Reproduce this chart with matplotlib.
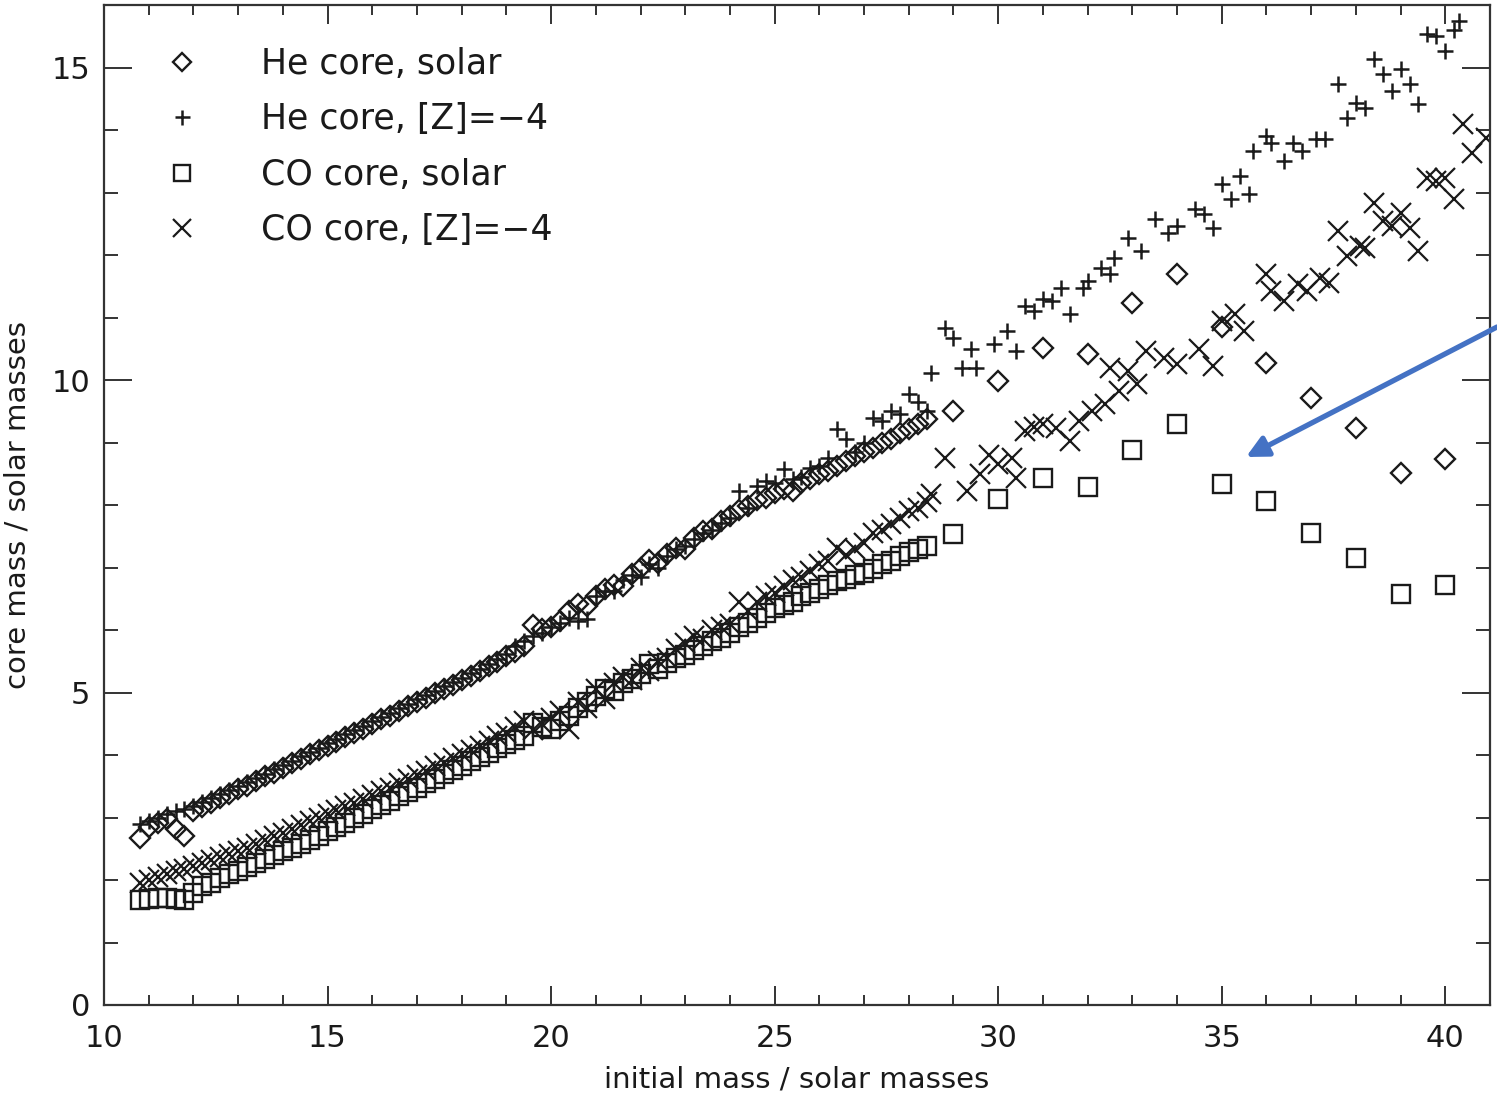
import matplotlib
matplotlib.use("Agg")
import matplotlib.pyplot as plt
from matplotlib.ticker import MultipleLocator

# ---------------- data ----------------
mass_dense = [10.8,
              11.0, 11.2, 11.4, 11.6, 11.8, 12.0, 12.2, 12.4, 12.6, 12.8,
              13.0, 13.2, 13.4, 13.6, 13.8, 14.0, 14.2, 14.4, 14.6, 14.8,
              15.0, 15.2, 15.4, 15.6, 15.8, 16.0, 16.2, 16.4, 16.6, 16.8,
              17.0, 17.2, 17.4, 17.6, 17.8, 18.0, 18.2, 18.4, 18.6, 18.8,
              19.0, 19.2, 19.4, 19.6, 19.8, 20.0, 20.2, 20.4, 20.6, 20.8,
              21.0, 21.2, 21.4, 21.6, 21.8, 22.0, 22.2, 22.4, 22.6, 22.8,
              23.0, 23.2, 23.4, 23.6, 23.8, 24.0, 24.2, 24.4, 24.6, 24.8,
              25.0, 25.2, 25.4, 25.6, 25.8, 26.0, 26.2, 26.4, 26.6, 26.8,
              27.0, 27.2, 27.4, 27.6, 27.8, 28.0, 28.2, 28.4]

mass_solar_extra = [29, 30, 31, 32, 33, 34, 35, 36, 37, 38, 39, 40]

he_solar_dense = [2.67,
                  2.85, 2.92, 2.98, 2.82, 2.70, 3.10, 3.17, 3.23, 3.31, 3.37,
                  3.45, 3.51, 3.59, 3.66, 3.72, 3.80, 3.87, 3.93, 4.01, 4.08,
                  4.15, 4.21, 4.29, 4.36, 4.42, 4.50, 4.57, 4.63, 4.71, 4.78,
                  4.85, 4.91, 4.99, 5.06, 5.12, 5.20, 5.27, 5.34, 5.42, 5.49,
                  5.58, 5.65, 5.74, 6.08, 6.02, 6.05, 6.15, 6.30, 6.42, 6.38,
                  6.55, 6.65, 6.72, 6.70, 6.90, 7.00, 7.12, 7.08, 7.22, 7.32,
                  7.30, 7.48, 7.58, 7.62, 7.75, 7.82, 7.92, 7.98, 8.08, 8.12,
                  8.20, 8.25, 8.22, 8.35, 8.42, 8.50, 8.55, 8.62, 8.70, 8.78,
                  8.85, 8.92, 9.00, 9.05, 9.15, 9.22, 9.30, 9.38]
he_solar_extra = [9.50, 9.98, 10.52, 10.42, 11.24, 11.70, 10.85, 10.28, 9.72, 9.24, 8.52, 8.74]

co_solar_dense = [1.68,
                  1.70, 1.72, 1.72, 1.70, 1.68, 1.80, 1.90, 1.96, 2.03, 2.09,
                  2.15, 2.21, 2.28, 2.34, 2.40, 2.46, 2.52, 2.58, 2.64, 2.71,
                  2.78, 2.85, 2.92, 2.99, 3.06, 3.13, 3.20, 3.27, 3.34, 3.41,
                  3.48, 3.55, 3.62, 3.69, 3.76, 3.83, 3.90, 3.97, 4.04, 4.11,
                  4.18, 4.24, 4.30, 4.52, 4.45, 4.42, 4.55, 4.62, 4.75, 4.85,
                  4.95, 5.05, 5.02, 5.15, 5.22, 5.30, 5.45, 5.38, 5.48, 5.55,
                  5.60, 5.68, 5.75, 5.82, 5.88, 5.95, 6.05, 6.12, 6.20, 6.28,
                  6.35, 6.40, 6.45, 6.55, 6.60, 6.65, 6.72, 6.78, 6.82, 6.88,
                  6.92, 6.98, 7.05, 7.10, 7.18, 7.25, 7.30, 7.35]
co_solar_extra = [7.54, 8.10, 8.43, 8.29, 8.88, 9.30, 8.34, 8.07, 7.56, 7.16, 6.58, 6.72]

he_z4_dense = [2.90,
               2.95, 3.00, 3.05, 3.10, 3.14, 3.19, 3.25, 3.31, 3.37, 3.44,
               3.50, 3.57, 3.63, 3.70, 3.77, 3.84, 3.91, 3.98, 4.05, 4.12,
               4.19, 4.26, 4.33, 4.40, 4.47, 4.54, 4.61, 4.68, 4.75, 4.82,
               4.89, 4.96, 5.03, 5.10, 5.17, 5.24, 5.31, 5.38, 5.46, 5.54,
               5.62, 5.75, 5.82, 5.90, 5.95, 6.05, 6.12, 6.20, 6.15, 6.18,
               6.55, 6.62, 6.62, 6.80, 6.88, 6.85, 7.05, 7.00, 7.18, 7.30,
               7.35, 7.45, 7.55, 7.60, 7.72, 7.80, 8.23, 7.95, 8.30, 8.39,
               8.35, 8.58, 8.42, 8.45, 8.60, 8.62, 8.75, 9.22, 9.05, 8.85,
               9.00, 9.40, 9.35, 9.50, 9.45, 9.78, 9.65, 9.50]
mass_he_z4_extra = [28.5, 28.8, 29.0, 29.2, 29.4, 29.5, 29.9, 30.2, 30.4, 30.6,
                    30.8, 31.0, 31.2, 31.4, 31.6, 31.9, 32.0, 32.3, 32.5, 32.6,
                    32.9, 33.2, 33.5, 33.8, 34.0, 34.4, 34.6, 34.8, 35.0, 35.2,
                    35.4, 35.6, 35.7, 36.0, 36.1, 36.4, 36.6, 36.8, 37.1, 37.3,
                    37.6, 37.8, 38.0, 38.2, 38.4, 38.6, 38.8, 39.0, 39.2, 39.4,
                    39.6, 39.8, 40.0, 40.2, 40.3]
he_z4_extra = [10.12, 10.83, 10.67, 10.19, 10.50, 10.20, 10.57, 10.78, 10.46, 11.18,
               11.10, 11.30, 11.26, 11.47, 11.05, 11.47, 11.58, 11.79, 11.70, 11.95,
               12.27, 12.06, 12.57, 12.35, 12.46, 12.73, 12.65, 12.43, 13.13, 12.90,
               13.26, 12.97, 13.66, 13.90, 13.79, 13.50, 13.79, 13.66, 13.85, 13.85,
               14.73, 14.19, 14.43, 14.35, 15.14, 14.89, 14.62, 14.97, 14.73, 14.41,
               15.53, 15.50, 15.26, 15.60, 15.75]

co_z4_dense = [1.95,
               2.00, 2.05, 2.10, 2.14, 2.18, 2.22, 2.27, 2.32, 2.37, 2.42,
               2.47, 2.52, 2.58, 2.64, 2.70, 2.76, 2.82, 2.88, 2.94, 3.00,
               3.06, 3.12, 3.18, 3.24, 3.30, 3.36, 3.42, 3.48, 3.55, 3.62,
               3.68, 3.75, 3.82, 3.88, 3.95, 4.02, 4.08, 4.15, 4.22, 4.30,
               4.35, 4.45, 4.55, 4.40, 4.50, 4.60, 4.70, 4.42, 4.85, 4.75,
               5.05, 4.90, 5.15, 5.25, 5.20, 5.40, 5.35, 5.50, 5.55, 5.70,
               5.80, 5.90, 5.85, 6.00, 6.05, 6.10, 6.45, 6.30, 6.45, 6.55,
               6.60, 6.70, 6.80, 6.85, 6.95, 7.05, 7.10, 7.32, 7.20, 7.30,
               7.40, 7.55, 7.60, 7.70, 7.80, 7.90, 7.95, 8.05]
mass_co_z4_extra = [28.5, 28.8, 29.3, 29.6, 29.8, 30.0, 30.3, 30.4, 30.6, 30.8,
                    31.0, 31.3, 31.6, 31.8, 32.1, 32.4, 32.5, 32.7, 32.9, 33.1,
                    33.3, 33.7, 34.0, 34.5, 34.8, 35.0, 35.3, 35.5, 36.0, 36.1,
                    36.4, 36.7, 36.9, 37.2, 37.4, 37.6, 37.8, 38.1, 38.2, 38.4,
                    38.6, 38.8, 39.0, 39.2, 39.4, 39.6, 39.8, 40.0, 40.2, 40.4,
                    40.6, 40.9]
co_z4_extra = [8.18, 8.75, 8.23, 8.50, 8.80, 8.66, 8.75, 8.43, 9.18, 9.25,
               9.30, 9.23, 9.03, 9.35, 9.50, 9.62, 10.19, 9.82, 10.14, 9.94,
               10.46, 10.35, 10.25, 10.49, 10.22, 10.94, 11.05, 10.78, 11.69, 11.42,
               11.26, 11.53, 11.42, 11.63, 11.55, 12.38, 11.98, 12.14, 12.11, 12.83,
               12.54, 12.46, 12.67, 12.43, 12.06, 13.23, 13.18, 13.23, 12.90, 14.09,
               13.63, 13.87]

labels = ["He core, solar", "He core, [Z]=\u22124", "CO core, solar", "CO core, [Z]=\u22124"]

# ---------------- figure ----------------
ink = "#1a1a1a"
fig = plt.figure(figsize=(14.97, 11.01), dpi=100)
ax = fig.add_axes([104/1497, 1 - 1005/1101, (1490-104)/1497, (1005-5)/1101])

ax.plot(mass_dense + mass_solar_extra, he_solar_dense + he_solar_extra,
        linestyle="none", marker="D", ms=10, mfc="none", mec=ink, mew=1.7,
        label=labels[0])
ax.plot(mass_dense + mass_he_z4_extra, he_z4_dense + he_z4_extra,
        linestyle="none", marker="+", ms=12, mec=ink, mew=1.8, label=labels[1])
ax.plot(mass_dense + mass_solar_extra, co_solar_dense + co_solar_extra,
        linestyle="none", marker="s", ms=13, mfc="none", mec=ink, mew=1.7,
        label=labels[2])
ax.plot(mass_dense + mass_co_z4_extra, co_z4_dense + co_z4_extra,
        linestyle="none", marker="x", ms=14, mec=ink, mew=1.6, label=labels[3])

ax.set_xlim(10, 41)
ax.set_ylim(0, 16)
ax.xaxis.set_major_locator(MultipleLocator(5))
ax.xaxis.set_minor_locator(MultipleLocator(1))
ax.yaxis.set_major_locator(MultipleLocator(5))
ax.yaxis.set_minor_locator(MultipleLocator(1))

for s in ax.spines.values():
    s.set_linewidth(1.6)
    s.set_color("#333333")

ax.tick_params(axis="both", which="both", direction="in", top=True, right=True,
               colors="#333333", labelcolor=ink, labelsize=22, width=1.4)
ax.tick_params(axis="x", which="major", length=14, pad=14)
ax.tick_params(axis="x", which="minor", length=7)
ax.tick_params(axis="y", which="major", length=20, pad=10)
ax.tick_params(axis="y", which="minor", length=10)

ax.set_xlabel("initial mass / solar masses", fontsize=21, color=ink, labelpad=9)
ax.set_ylabel("core mass / solar masses", fontsize=21, color=ink, labelpad=14)

leg = ax.legend(loc="upper left", bbox_to_anchor=(0.026, 0.982), frameon=False,
                fontsize=25, handlelength=1.0, handletextpad=1.78,
                labelspacing=0.61, markerscale=0.9, borderaxespad=0.3)
for t in leg.get_texts():
    t.set_color(ink)

# blue annotation arrow
ax.annotate("", xy=(1246/1497, 1 - 457/1101), xycoords="figure fraction",
            xytext=(1.0, 1 - 327/1101), textcoords="figure fraction",
            arrowprops=dict(arrowstyle="-|>", color="#4472C4", lw=3.8,
                            mutation_scale=32, shrinkA=0, shrinkB=0),
            annotation_clip=False)

fig.savefig("out.png", dpi=100, facecolor="white")
